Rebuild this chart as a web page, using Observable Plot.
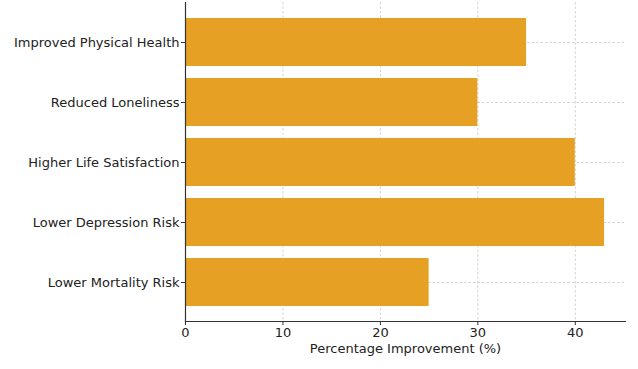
<!DOCTYPE html>
<html><head>
<meta charset="utf-8">
<script src="https://cdn.jsdelivr.net/npm/d3@7"></script>
<script src="https://cdn.jsdelivr.net/npm/@observablehq/plot@0.6"></script>
<style>body{margin:0;background:#fff}</style>
</head><body><div id="chart"></div>
<script>
const categories = ["Improved Physical Health", "Reduced Loneliness", "Higher Life Satisfaction", "Lower Depression Risk", "Lower Mortality Risk"];
const values = [35, 30, 40, 43, 25];
const xTicks = [0, 10, 20, 30, 40];
const xLabel = "Percentage Improvement (%)";

const data = categories.map((c, i) => ({category: c, value: values[i]}));

const plot = Plot.plot({
  width: 638, height: 369,
  marginLeft: 185, marginRight: 13, marginTop: 2, marginBottom: 48,
  style: {fontFamily: "DejaVu Sans", fontSize: "13px", color: "#222", background: "#fff"},
  x: {domain: [0, 45.15], label: null},
  y: {domain: categories, paddingInner: 0.2, paddingOuter: 0.24, label: null},
  marks: [
    Plot.gridX(xTicks, {stroke: "#c8c8c8", strokeOpacity: 1, strokeWidth: 0.8, strokeDasharray: "2.5,2"}),
    Plot.gridY(categories, {stroke: "#c8c8c8", strokeOpacity: 1, strokeWidth: 0.8, strokeDasharray: "2.5,2"}),
    Plot.barX(data, {x: "value", y: "category", fill: "#E6A125"}),
    Plot.axisX(xTicks, {tickSize: 4, tickPadding: 2, stroke: "#333", fill: "#222", label: null}),
    Plot.axisY({tickSize: 4, tickPadding: 2, stroke: "#333", fill: "#222", label: null}),
    Plot.ruleX([0], {stroke: "#333", strokeWidth: 1.2}),
    Plot.frame({anchor: "bottom", stroke: "#333", strokeWidth: 1.2}),
    Plot.text([xLabel], {frameAnchor: "bottom", dy: 27, lineAnchor: "middle", fill: "#222", fontSize: 13})
  ]
});
document.getElementById("chart").appendChild(plot);
</script>
</body></html>
